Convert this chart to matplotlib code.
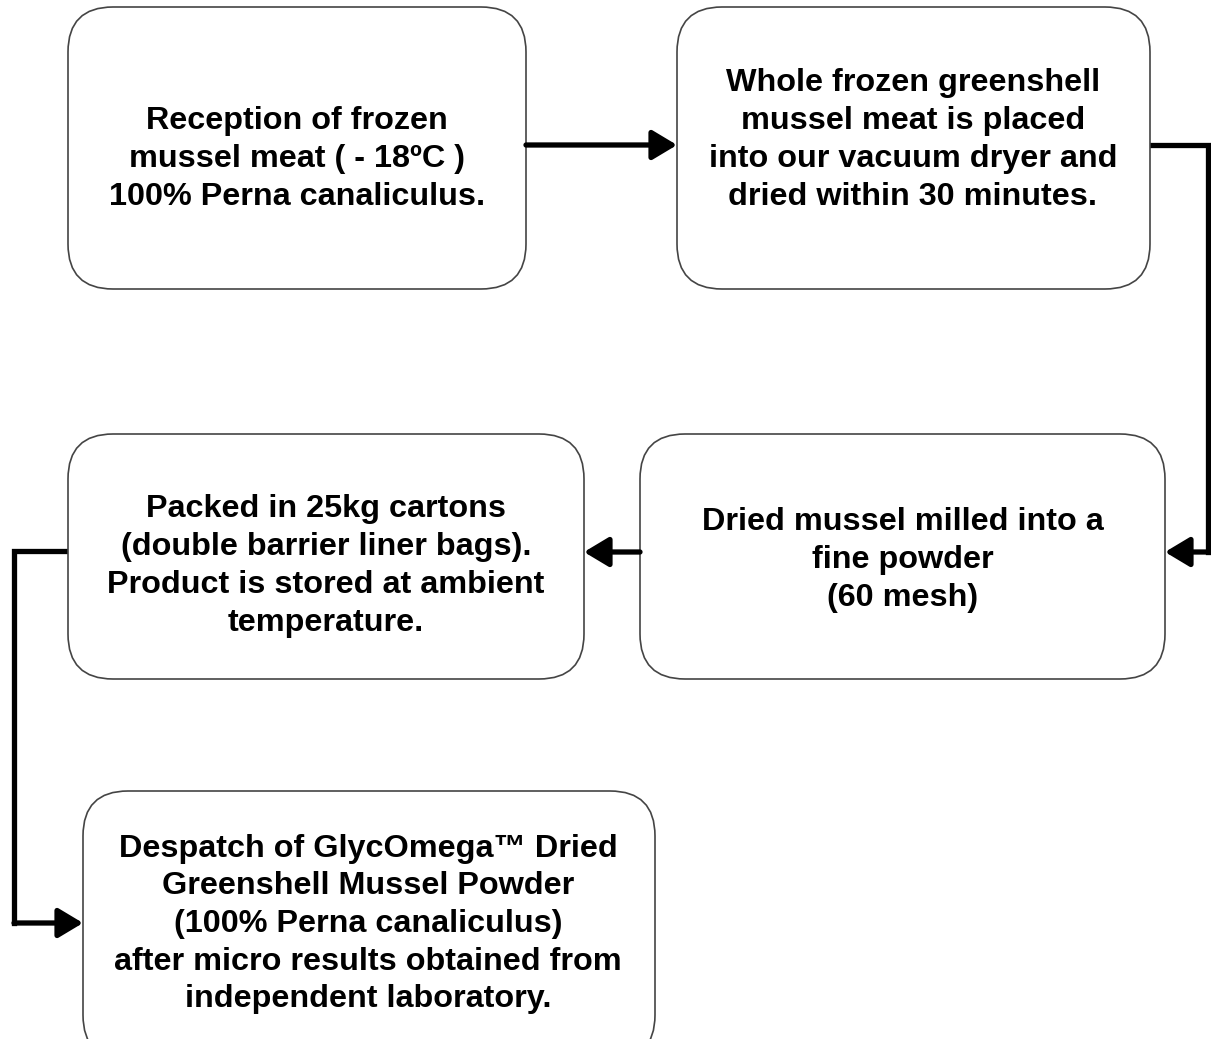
import matplotlib
matplotlib.use("Agg")
import matplotlib.pyplot as plt
from matplotlib.patches import FancyBboxPatch

plt.rcParams['font.family'] = ['Liberation Sans', 'DejaVu Sans']

# Step texts
step_texts = [
    "Reception of frozen\nmussel meat ( - 18ºC )\n100% Perna canaliculus.",
    "Whole frozen greenshell\nmussel meat is placed\ninto our vacuum dryer and\ndried within 30 minutes.",
    "Dried mussel milled into a\nfine powder\n(60 mesh)",
    "Packed in 25kg cartons\n(double barrier liner bags).\nProduct is stored at ambient\ntemperature.",
    "Despatch of GlycOmega™ Dried\nGreenshell Mussel Powder\n(100% Perna canaliculus)\nafter micro results obtained from\nindependent laboratory.",
]

# Box layout (pixels): left, top, right, bottom
boxes = [
    (68, 7, 526, 289),
    (677, 7, 1150, 289),
    (640, 434, 1165, 679),
    (68, 434, 584, 679),
    (83, 791, 655, 1060),
]
text_centers = [(297, 159), (913, 140), (903, 560), (326, 566), (368, 924)]

W, H = 1211, 1039
fig = plt.figure(figsize=(W / 100, H / 100), dpi=100)
ax = fig.add_axes([0, 0, 1, 1])
ax.set_xlim(0, W)
ax.set_ylim(H, 0)
ax.axis('off')

for (l, t, r, b), txt, (cx, cy) in zip(boxes, step_texts, text_centers):
    p = FancyBboxPatch((l, t), r - l, b - t,
                       boxstyle="round,pad=0,rounding_size=45",
                       fc='white', ec='#444444', lw=1.2, zorder=2)
    ax.add_patch(p)
    ax.text(cx, cy, txt, ha='center', va='center', fontsize=23.3,
            fontweight='bold', linespacing=1.335, zorder=3, color='black')

LW = 3.8
def connector(points):
    xs = [p[0] for p in points[:-1]]
    ys = [p[1] for p in points[:-1]]
    if len(points) > 2:
        ax.plot(xs, ys, color='black', lw=LW, solid_capstyle='projecting',
                solid_joinstyle='miter', zorder=1)
    ax.annotate("", xy=points[-1], xytext=points[-2],
                arrowprops=dict(arrowstyle='-|>,head_length=0.75,head_width=0.45',
                                lw=LW, color='black', shrinkA=0, shrinkB=0,
                                mutation_scale=20),
                zorder=4)

connector([(526, 145), (677, 145)])
connector([(1150, 145), (1208, 145), (1208, 552), (1165, 552)])
connector([(640, 552), (584, 552)])
connector([(68, 551), (14, 551), (14, 923), (83, 923)])

fig.savefig("out.png", dpi=100, facecolor='white')
